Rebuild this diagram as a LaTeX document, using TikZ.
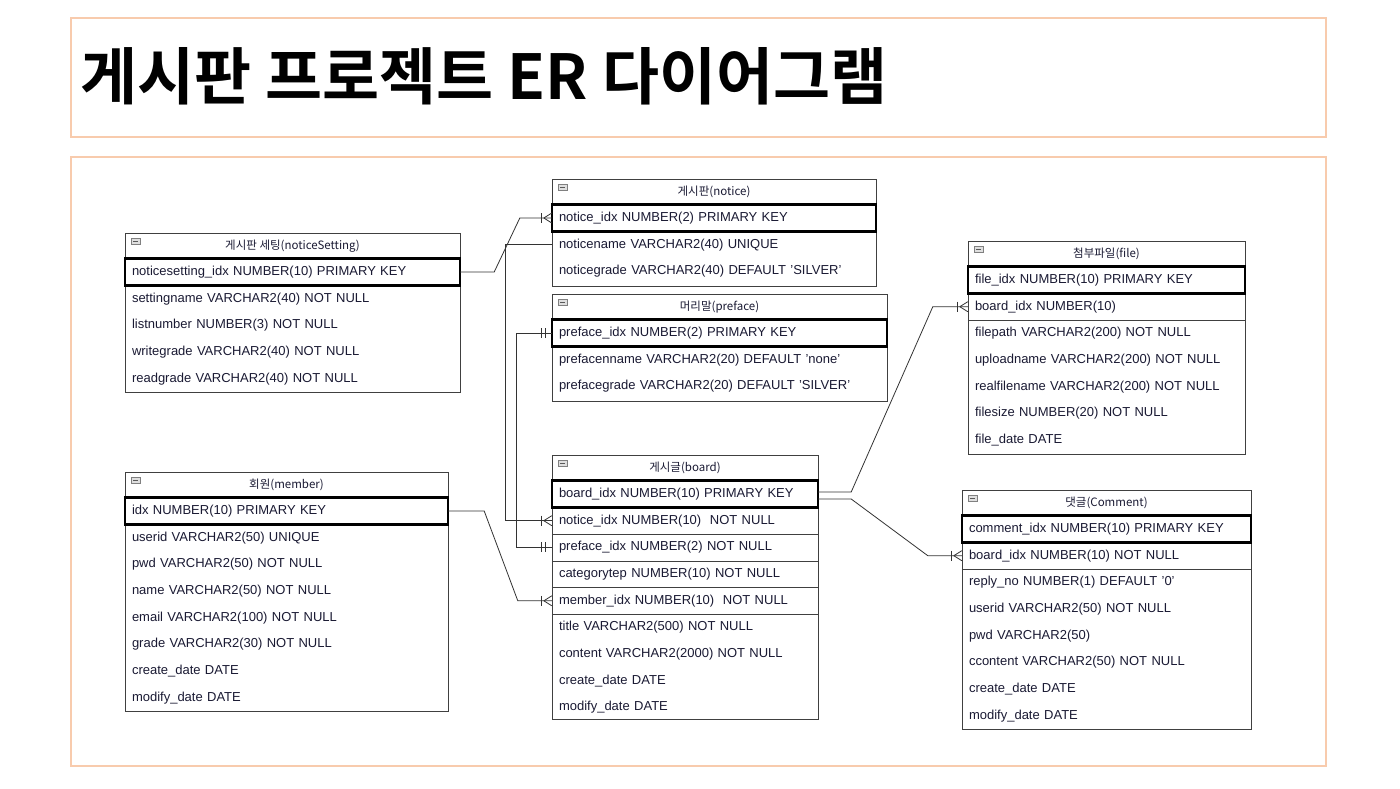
\documentclass[tikz,border=0pt]{standalone}
\usepackage{fontspec}
\setmainfont{Liberation Sans}
\newfontfamily\cjk{Noto Sans CJK KR}
\newfontfamily\cjkb{Noto Sans CJK KR Bold}
\definecolor{peach}{HTML}{F8CBAD}
\definecolor{ink}{HTML}{1A1A33}
\tikzset{
  frame/.style={draw=peach,line width=2.5pt},
  tbl/.style={draw=black!75,line width=0.8pt},
  hdr/.style={font=\cjk\fontsize{11.5}{13}\selectfont,text=ink,inner sep=0pt},
  rowbox/.style={inner ysep=0pt,inner xsep=0pt,minimum height=26.7pt,align=left,font=\fontsize{13}{15}\selectfont,text=ink},
  pk/.style={draw=black,line width=2.5pt},
  conn/.style={draw=black!80,line width=0.8pt}
}
\newcommand\ertable[7]{%
  \draw[tbl] (#2,#3) rectangle (#2+#4,#7);
  \draw[draw=gray,fill=gray!25] (#2+6,#3+5) rectangle (#2+15,#3+11);
  \draw[gray!70!black] (#2+8,#3+8) -- (#2+13,#3+8);
  \node[hdr] (#1-h) at (#2+#4/2,#3+13) {#5};
  \foreach \t [count=\i] in {#6} {
    \node[rowbox,minimum width=#4pt,text width=#4pt-14pt] (#1-\i) at (#2+#4/2,#3+39+26.7*\i-26.7) {\t};
  }
  \draw[pk] (#1-1.north west) rectangle (#1-1.south east);
}
\newcommand\crowfoot[1]{%
  \draw[conn] ($(#1)+(-10,-5)$) -- ($(#1)+(-10,5)$);
  \draw[conn] ($(#1)+(-8,0)$) -- ($(#1)+(0,-5)$);
  \draw[conn] ($(#1)+(-8,0)$) -- ($(#1)+(0,5)$);
}
\newcommand\dbar[1]{%
  \draw[conn] ($(#1)+(-10,-5)$) -- ($(#1)+(-10,5)$);
  \draw[conn] ($(#1)+(-6,-5)$) -- ($(#1)+(-6,5)$);
}
\usetikzlibrary{calc}
\begin{document}
\begin{tikzpicture}[x=1pt,y=-1pt]
\useasboundingbox (0,0) rectangle (1400,788);
\fill[white] (0,0) rectangle (1400,788);
\draw[frame] (71,18) rectangle (1326,137);
\draw[frame] (71,157) rectangle (1326,766);
\node[anchor=west,inner sep=0pt,font=\cjkb\fontsize{62}{70}\selectfont] (title) at (80,76) {게시판 프로젝트 ER 다이어그램};

\ertable{set}{125}{233}{335}{게시판 세팅(noticeSetting)}{noticesetting\_idx NUMBER(10) PRIMARY KEY,settingname VARCHAR2(40) NOT NULL,listnumber NUMBER(3) NOT NULL,writegrade VARCHAR2(40) NOT NULL,readgrade VARCHAR2(40) NOT NULL}{392}
\ertable{not}{552}{179}{324}{게시판(notice)}{notice\_idx NUMBER(2) PRIMARY KEY,noticename VARCHAR2(40) UNIQUE,noticegrade VARCHAR2(40) DEFAULT 'SILVER'}{286}
\ertable{pre}{552}{294}{335}{머리말(preface)}{preface\_idx NUMBER(2) PRIMARY KEY,prefacenname VARCHAR2(20) DEFAULT 'none',prefacegrade VARCHAR2(20) DEFAULT 'SILVER'}{401}
\ertable{mem}{125}{472}{323}{회원(member)}{idx NUMBER(10) PRIMARY KEY,userid VARCHAR2(50) UNIQUE,pwd VARCHAR2(50) NOT NULL,name VARCHAR2(50) NOT NULL,email VARCHAR2(100) NOT NULL,grade VARCHAR2(30) NOT NULL,create\_date DATE,modify\_date DATE}{711}
\ertable{brd}{552}{455}{266}{게시글(board)}{board\_idx NUMBER(10) PRIMARY KEY,notice\_idx NUMBER(10)\ \ NOT NULL,preface\_idx NUMBER(2) NOT NULL,categorytep NUMBER(10) NOT NULL,member\_idx NUMBER(10)\ \ NOT NULL,title VARCHAR2(500) NOT NULL,content VARCHAR2(2000) NOT NULL,create\_date DATE,modify\_date DATE}{719}
\ertable{fil}{968}{241}{277}{첨부파일(file)}{file\_idx NUMBER(10) PRIMARY KEY,board\_idx NUMBER(10),filepath VARCHAR2(200) NOT NULL,uploadname VARCHAR2(200) NOT NULL,realfilename VARCHAR2(200) NOT NULL,filesize NUMBER(20) NOT NULL,file\_date DATE}{454}
\ertable{com}{962}{490}{289}{댓글(Comment)}{comment\_idx NUMBER(10) PRIMARY KEY,board\_idx NUMBER(10) NOT NULL,reply\_no NUMBER(1) DEFAULT '0',userid VARCHAR2(50) NOT NULL,pwd VARCHAR2(50),ccontent VARCHAR2(50) NOT NULL,create\_date DATE,modify\_date DATE}{729}

% separators
\draw[tbl] (fil-2.south west) -- (fil-2.south east);
\draw[tbl] (com-2.south west) -- (com-2.south east);
\foreach \k in {2,3,4,5} \draw[tbl] (brd-\k.south west) -- (brd-\k.south east);

% connectors
\draw[conn] (set-1.east) -- ++(34,0) -- ($(not-1.west)+(-32,0)$) -- (not-1.west);
\crowfoot{not-1.west}
\draw[conn] (not-2.west) -- ++(-46,0) |- (brd-2.west);
\crowfoot{brd-2.west}
\draw[conn] (pre-1.west) -- ++(-35,0) |- (brd-3.west);
\dbar{pre-1.west}
\dbar{brd-3.west}
\draw[conn] (mem-1.east) -- ++(36,0) -- ($(brd-5.west)+(-34,0)$) -- (brd-5.west);
\crowfoot{brd-5.west}
\draw[conn] ($(brd-1.east)+(0,-2)$) -- ++(33,0) -- ($(fil-2.west)+(-35,0)$) -- (fil-2.west);
\crowfoot{fil-2.west}
\draw[conn] ($(brd-1.east)+(0,5)$) -- ++(33,0) -- ($(com-2.west)+(-34,0)$) -- (com-2.west);
\crowfoot{com-2.west}
\end{tikzpicture}
\end{document}
